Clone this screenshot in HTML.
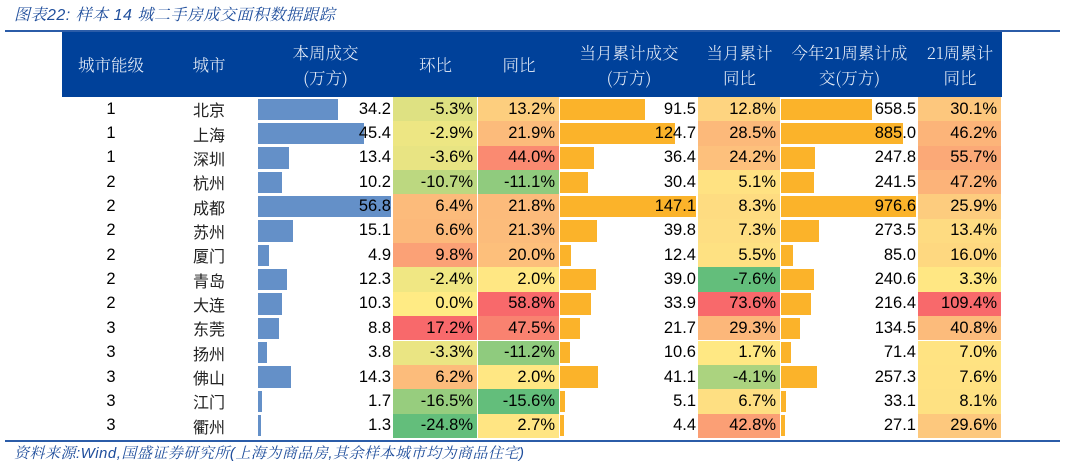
<!DOCTYPE html>
<html><head><meta charset="utf-8"><style>
body{margin:0;background:#fff;width:1065px;height:466px;overflow:hidden;position:relative;font-family:"Liberation Sans","Noto Sans CJK SC",sans-serif}
.abs{position:absolute}
.title{left:14px;top:2px;font-size:16px;color:#1f4e9c;font-style:italic;font-family:"Liberation Sans","Noto Serif CJK SC",serif;letter-spacing:0.5px}
.line{left:5px;width:1055px;background:#2b5ca8}
.hdr{left:62px;top:32px;width:940px;height:65px;background:#00419a}
.hc{position:absolute;top:0;height:65px;display:flex;align-items:center;justify-content:center;text-align:center;color:#e8eef8;font-size:16.5px;line-height:25px;font-family:"Noto Serif CJK SC",serif;font-weight:300}
.cell{position:absolute;font-size:16.5px;color:#000;display:flex;align-items:center;box-sizing:border-box}
.foot{left:14px;top:442px;font-size:15px;color:#1f4e9c;font-style:italic;font-family:"Liberation Sans","Noto Serif CJK SC",serif;letter-spacing:0.5px}
</style></head><body>
<div class="abs title">图表22:  样本 14 城二手房成交面积数据跟踪</div>
<div class="abs line" style="top:30px;height:2px"></div>
<div class="abs hdr"></div>
<div id="tbl" class="abs" style="left:0;top:0;width:1065px;height:466px"></div>
<div class="abs line" style="top:440px;height:2px"></div>
<div class="abs foot">资料来源:Wind,国盛证券研究所(上海为商品房,其余样本城市均为商品住宅)</div>
<script>
const levels=[1,1,1,2,2,2,2,2,2,3,3,3,3,3];
const cities=["北京","上海","深圳","杭州","成都","苏州","厦门","青岛","大连","东莞","扬州","佛山","江门","衢州"];
const weekArea=[34.2,45.4,13.4,10.2,56.8,15.1,4.9,12.3,10.3,8.8,3.8,14.3,1.7,1.3];
const weekMoM=[-5.3,-2.9,-3.6,-10.7,6.4,6.6,9.8,-2.4,0.0,17.2,-3.3,6.2,-16.5,-24.8];
const weekYoY=[13.2,21.9,44.0,-11.1,21.8,21.3,20.0,2.0,58.8,47.5,-11.2,2.0,-15.6,2.7];
const monthArea=[91.5,124.7,36.4,30.4,147.1,39.8,12.4,39.0,33.9,21.7,10.6,41.1,5.1,4.4];
const monthYoY=[12.8,28.5,24.2,5.1,8.3,7.3,5.5,-7.6,73.6,29.3,1.7,-4.1,6.7,42.8];
const ytdArea=[658.5,885.0,247.8,241.5,976.6,273.5,85.0,240.6,216.4,134.5,71.4,257.3,33.1,27.1];
const ytdYoY=[30.1,46.2,55.7,47.2,25.9,13.4,16.0,3.3,109.4,40.8,7.0,7.6,8.1,29.6];
const headers=["城市能级","城市","本周成交<br>(万方)","环比","同比","当月累计成交<br>(万方)","当月累计<br>同比","今年21周累计成<br>交(万方)","21周累计<br>同比"];

const cols=[[62,160],[160,258],[258,393],[393,478],[478,560],[560,698],[698,781],[781,918],[918,1002]];
const top0=97,rh=24.35;
const tbl=document.getElementById('tbl');
const hdrNames=['level','city','week-area','week-mom','week-yoy','month-area','month-yoy','ytd-area','ytd-yoy'];
headers.forEach((h,i)=>{
  const d=document.createElement('div');d.className='hc';
  
  
  d.style.left=cols[i][0]+'px';d.style.top='32px';d.style.width=(cols[i][1]-cols[i][0])+'px';
  d.innerHTML=h;tbl.appendChild(d);
});
function mix(a,b,t){return a.map((v,i)=>Math.round(v+(b[i]-v)*t));}
const G=[99,190,123],Y=[255,235,132],R=[248,105,107];
function heat(v,arr){const mn=Math.min(...arr),mx=Math.max(...arr);let c;
  if(v<=0)c=mix(Y,G,mn<0?v/mn:0);else c=mix(Y,R,v/mx);return 'rgb('+c.join(',')+')';}
function cell(i,ci,name,text,align){
  const d=document.createElement('div');d.className='cell';
  
  
  d.style.left=cols[ci][0]+'px';d.style.top=(top0+i*rh)+'px';
  d.style.width=(cols[ci][1]-cols[ci][0])+'px';d.style.height=rh+'px';
  d.style.justifyContent=align;d.style.paddingRight='3px';
  d.textContent=text;tbl.appendChild(d);return d;}
function bar(i,ci,arr,color,name){
  const mx=Math.max(...arr);const w=cols[ci][1]-cols[ci][0]-2;
  const b=document.createElement('div');
  
  
  b.style.cssText='position:absolute;background:'+color;
  b.style.left=cols[ci][0]+'px';b.style.top=(top0+i*rh+1.5)+'px';
  b.style.height=(rh-3)+'px';b.style.width=(arr[i]/mx*w)+'px';tbl.appendChild(b);
  const t=cell(i,ci,name+'-label',arr[i].toFixed(1),'flex-end');t.style.paddingRight='2px';}
function hcell(i,ci,arr,name){
  const d=cell(i,ci,name,arr[i].toFixed(1)+'%','flex-end');
  d.style.background=heat(arr[i],arr);d.style.borderRight='1.5px solid #fff';d.style.paddingRight='4px';}
for(let i=0;i<cities.length;i++){
  cell(i,0,'level-'+i,String(levels[i]),'center').style.paddingRight='0';
  const c=cell(i,1,'city-'+i,cities[i],'center');c.style.paddingRight='0';c.style.fontSize='16px';c.style.color='#222';
  bar(i,2,weekArea,'#6490c8','week-area-bar-'+i);
  hcell(i,3,weekMoM,'week-mom-'+i);
  hcell(i,4,weekYoY,'week-yoy-'+i);
  bar(i,5,monthArea,'#fbb32a','month-area-bar-'+i);
  hcell(i,6,monthYoY,'month-yoy-'+i);
  bar(i,7,ytdArea,'#fbb32a','ytd-area-bar-'+i);
  hcell(i,8,ytdYoY,'ytd-yoy-'+i);
}
</script>
</body></html>
